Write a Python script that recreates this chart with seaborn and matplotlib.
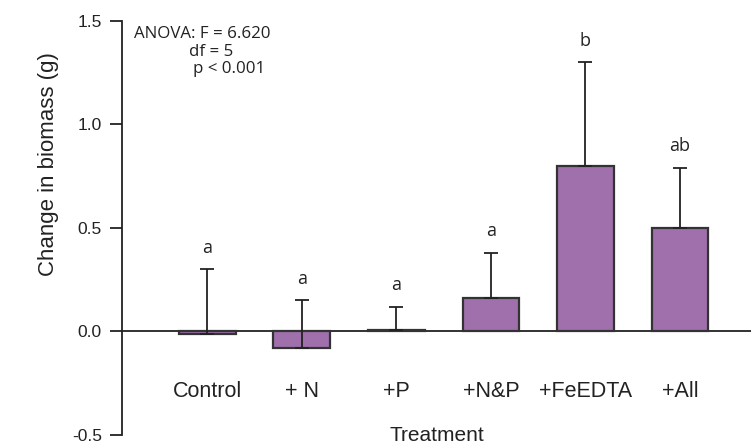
import numpy as np
import pandas as pd
import matplotlib
matplotlib.use('Agg')
import matplotlib.pyplot as plt
from matplotlib.ticker import FormatStrFormatter
import seaborn as sns

# data
treatments = ['Control', '+ N', '+P', '+N&P', '+FeEDTA', '+All']
mean_change = [-0.012, -0.08, 0.008, 0.16, 0.80, 0.50]
upper_err = [0.312, 0.23, 0.11, 0.22, 0.50, 0.29]
group_letters = ['a', 'a', 'a', 'a', 'b', 'ab']
yticks = [-0.5, 0.0, 0.5, 1.0, 1.5]

anova_lines = ['ANOVA: F = 6.620', 'df = 5', 'p < 0.001']

sns.set_style('white')
plt.rcParams['font.family'] = ['Liberation Sans', 'DejaVu Sans']
plt.rcParams['axes.unicode_minus'] = False

df = pd.DataFrame({'Treatment': treatments, 'Change': mean_change})

fig = plt.figure(figsize=(7.51, 4.45), dpi=100)
ax = fig.add_axes([0.1625, 0.0225, 0.8375, 0.9303])

ax.axhline(0, color='#222222', lw=1.3, zorder=1)
sns.barplot(data=df, x='Treatment', y='Change', color='#A070AD', saturation=1,
            edgecolor='#333333', linewidth=1.6, width=0.6, errorbar=None, ax=ax, zorder=2)

pos = np.arange(len(treatments))
ax.errorbar(pos, mean_change, yerr=[np.zeros(len(pos)), upper_err], fmt='none',
            ecolor='#222222', elinewidth=1.3, capsize=5, capthick=1.3, zorder=3)

for x, m, e, lab in zip(pos, mean_change, upper_err, group_letters):
    ax.text(x, m + e + 0.105, lab, ha='center', va='center', fontsize=13,
            family=['Open Sans', 'DejaVu Sans'], color='#222222')

ax.set_xlim(-0.9, 5.75)
ax.set_ylim(-0.5, 1.5)
ax.set_yticks(yticks)
ax.yaxis.set_major_formatter(FormatStrFormatter('%.1f'))

for s in ['top', 'right', 'bottom']:
    ax.spines[s].set_visible(False)
ax.spines['left'].set_color('#222222')
ax.spines['left'].set_linewidth(1.3)

ax.tick_params(axis='y', direction='out', length=8.5, width=1.3, color='#222222',
               labelsize=12.5, pad=6, left=True, labelcolor='#222222')
ax.tick_params(axis='x', length=0, labelsize=15.5, pad=-39, labelcolor='#222222')

ax.set_xlabel('Treatment', fontsize=15, color='#222222')
ax.xaxis.set_label_coords(0.5, -0.0145)
ax.xaxis.label.set_va('baseline')
ax.set_ylabel('Change in biomass (g)', fontsize=16, color='#222222')
ax.yaxis.set_label_coords(-0.1176, 0.6546)
ax.yaxis.label.set_va('center')

anova_x = [0.019, 0.1065, 0.113]
anova_y = [0.9686, 0.925, 0.884]
for tx, ty, line in zip(anova_x, anova_y, anova_lines):
    ax.text(tx, ty, line, transform=ax.transAxes, ha='left', va='center',
            fontsize=12.2, family=['Open Sans', 'DejaVu Sans'], color='#222222')

fig.savefig('out.png', dpi=100)
